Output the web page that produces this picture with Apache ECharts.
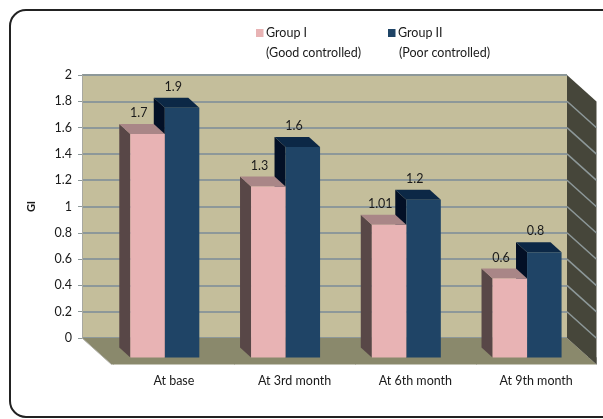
<!DOCTYPE html>
<html><head><meta charset="utf-8">
<script src="https://cdn.jsdelivr.net/npm/echarts@6/dist/echarts.min.js"></script>
<style>html,body{margin:0;padding:0;background:#fff}#c{width:603px;height:419px}</style>
</head><body><div id="c"></div>
<script>
var categories = ['At base', 'At 3rd month', 'At 6th month', 'At 9th month'];
var group1 = [1.7, 1.3, 1.01, 0.6];
var group2 = [1.9, 1.6, 1.2, 0.8];
var group1Labels = ['1.7', '1.3', '1.01', '0.6'];
var group2Labels = ['1.9', '1.6', '1.2', '0.8'];
var yTicks = [0, 0.2, 0.4, 0.6, 0.8, 1, 1.2, 1.4, 1.6, 1.8, 2];

var OX = 29.5, OY = 26.5; // oblique depth of floor / side wall
var FONT = 'Lato, "Open Sans", sans-serif';
var FS = 12.5;

var chart = echarts.init(document.getElementById('c'));

function barRender(isFirst, labels, colors) {
  return function (params, api) {
    var ci = api.value(0), v = api.value(1);
    var base = api.coord([ci, 0]);
    var top = api.coord([ci, v]);
    var bandW = api.size([1, 0])[0];
    var barW = bandW * 0.2857;
    var gc = base[0] - bandW * 0.075;
    var x0 = isFirst ? gc - barW : gc;
    var dx = barW * 0.32, dy = barW * 0.29;
    var yT = top[1], yB = base[1];
    return {
      type: 'group',
      children: [
        { type: 'polygon', shape: { points: [[x0, yT], [x0 - dx, yT - dy], [x0 - dx, yB - dy], [x0, yB]] }, style: { fill: colors.side } },
        { type: 'polygon', shape: { points: [[x0, yT], [x0 - dx, yT - dy], [x0 + barW - dx, yT - dy], [x0 + barW, yT]] }, style: { fill: colors.top } },
        { type: 'rect', shape: { x: x0, y: yT, width: barW, height: yB - yT }, style: { fill: colors.front } },
        { type: 'text', style: { text: labels[params.dataIndex], x: x0 + barW / 2 - dx * 0.8, y: yT - dy - 11, textAlign: 'center', textVerticalAlign: 'middle', fill: '#1a1a1a', font: FS + 'px ' + FONT } }
      ]
    };
  };
}

function decorRender(params, api) {
  var cs = params.coordSys;
  var x = cs.x, y = cs.y, w = cs.width, h = cs.height;
  var children = [];
  children.push({ type: 'polygon', shape: { points: [[x, y + h], [x + w, y + h], [x + w + OX, y + h + OY], [x + OX, y + h + OY]] }, style: { fill: '#8a896c' } });
  children.push({ type: 'polygon', shape: { points: [[x + w, y], [x + w + OX, y + OY], [x + w + OX, y + h + OY], [x + w, y + h]] }, style: { fill: '#46463a' } });
  children.push({ type: 'line', shape: { x1: x, y1: y + h, x2: x + OX, y2: y + h + OY }, style: { stroke: '#b0b0a8', lineWidth: 1 } });
  for (var i = 1; i < yTicks.length - 1; i++) {
    var yy = api.coord([0, yTicks[i]])[1];
    children.push({ type: 'line', shape: { x1: x + w, y1: yy, x2: x + w + OX, y2: yy + OY }, style: { stroke: '#8d9899', lineWidth: 1.5 } });
  }
  return { type: 'group', children: children };
}

chart.setOption({
  animation: false,
  backgroundColor: '#fff',
  graphic: [
    { type: 'rect', shape: { x: 10, y: 10, width: 640, height: 407, r: 16 }, style: { fill: 'none', stroke: '#222', lineWidth: 2 }, z: 100 },
    { type: 'rect', shape: { x: 256, y: 29, width: 7.5, height: 8 }, style: { fill: '#e8b3b4' } },
    { type: 'text', style: { text: 'Group I', x: 266, y: 33, textVerticalAlign: 'middle', fill: '#1a1a1a', font: FS + 'px ' + FONT } },
    { type: 'text', style: { text: '(Good controlled)', x: 266, y: 53, textVerticalAlign: 'middle', fill: '#1a1a1a', font: FS + 'px ' + FONT } },
    { type: 'rect', shape: { x: 388, y: 29, width: 7.5, height: 8 }, style: { fill: '#1f4466' } },
    { type: 'text', style: { text: 'Group II', x: 398, y: 33, textVerticalAlign: 'middle', fill: '#1a1a1a', font: FS + 'px ' + FONT } },
    { type: 'text', style: { text: '(Poor controlled)', x: 399, y: 53, textVerticalAlign: 'middle', fill: '#1a1a1a', font: FS + 'px ' + FONT } }
  ],
  grid: [
    { left: 82, top: 75, width: 485, height: 263, show: true, backgroundColor: '#c4be9b', borderWidth: 0 },
    { left: 113.5, top: 94.5, width: 483, height: 263 }
  ],
  xAxis: [
    { gridIndex: 0, type: 'category', data: categories, show: false },
    { gridIndex: 1, type: 'category', data: categories, offset: 7,
      axisLine: { show: true, lineStyle: { color: '#c8c8c8', width: 1 } },
      axisTick: { show: true, length: 7, lineStyle: { color: '#a0a0a0' } },
      axisLabel: { color: '#1a1a1a', fontSize: FS, fontFamily: FONT, margin: 10 } }
  ],
  yAxis: [
    { gridIndex: 0, type: 'value', min: 0, max: 2, interval: 0.2,
      name: 'GI', nameLocation: 'middle', nameGap: 45, nameRotate: 90,
      nameTextStyle: { fontWeight: 'bold', fontSize: 11, color: '#1a1a1a', fontFamily: FONT },
      axisLine: { show: true, lineStyle: { color: '#a8a8a0', width: 1 } },
      axisTick: { show: true, length: 4, lineStyle: { color: '#8d9899' } },
      splitLine: { show: true, lineStyle: { color: '#8d9899', width: 2 } },
      axisLabel: { color: '#1a1a1a', fontSize: FS, fontFamily: FONT, margin: 10,
        formatter: function (v) { return String(Math.round(v * 10) / 10); } } },
    { gridIndex: 1, type: 'value', min: 0, max: 2, interval: 0.2, show: false, splitLine: { show: false } }
  ],
  series: [
    { type: 'custom', xAxisIndex: 0, yAxisIndex: 0, data: [[0, 0]], renderItem: decorRender, z: 1, silent: true },
    { type: 'custom', name: 'Group II', xAxisIndex: 1, yAxisIndex: 1, z: 3,
      data: group2.map(function (v, i) { return [i, v]; }),
      renderItem: barRender(false, group2Labels, { front: '#1f4466', side: '#031026', top: '#0c2846' }) },
    { type: 'custom', name: 'Group I', xAxisIndex: 1, yAxisIndex: 1, z: 4,
      data: group1.map(function (v, i) { return [i, v]; }),
      renderItem: barRender(true, group1Labels, { front: '#e8b3b4', side: '#584747', top: '#a98687' }) }
  ]
});
</script></body></html>
